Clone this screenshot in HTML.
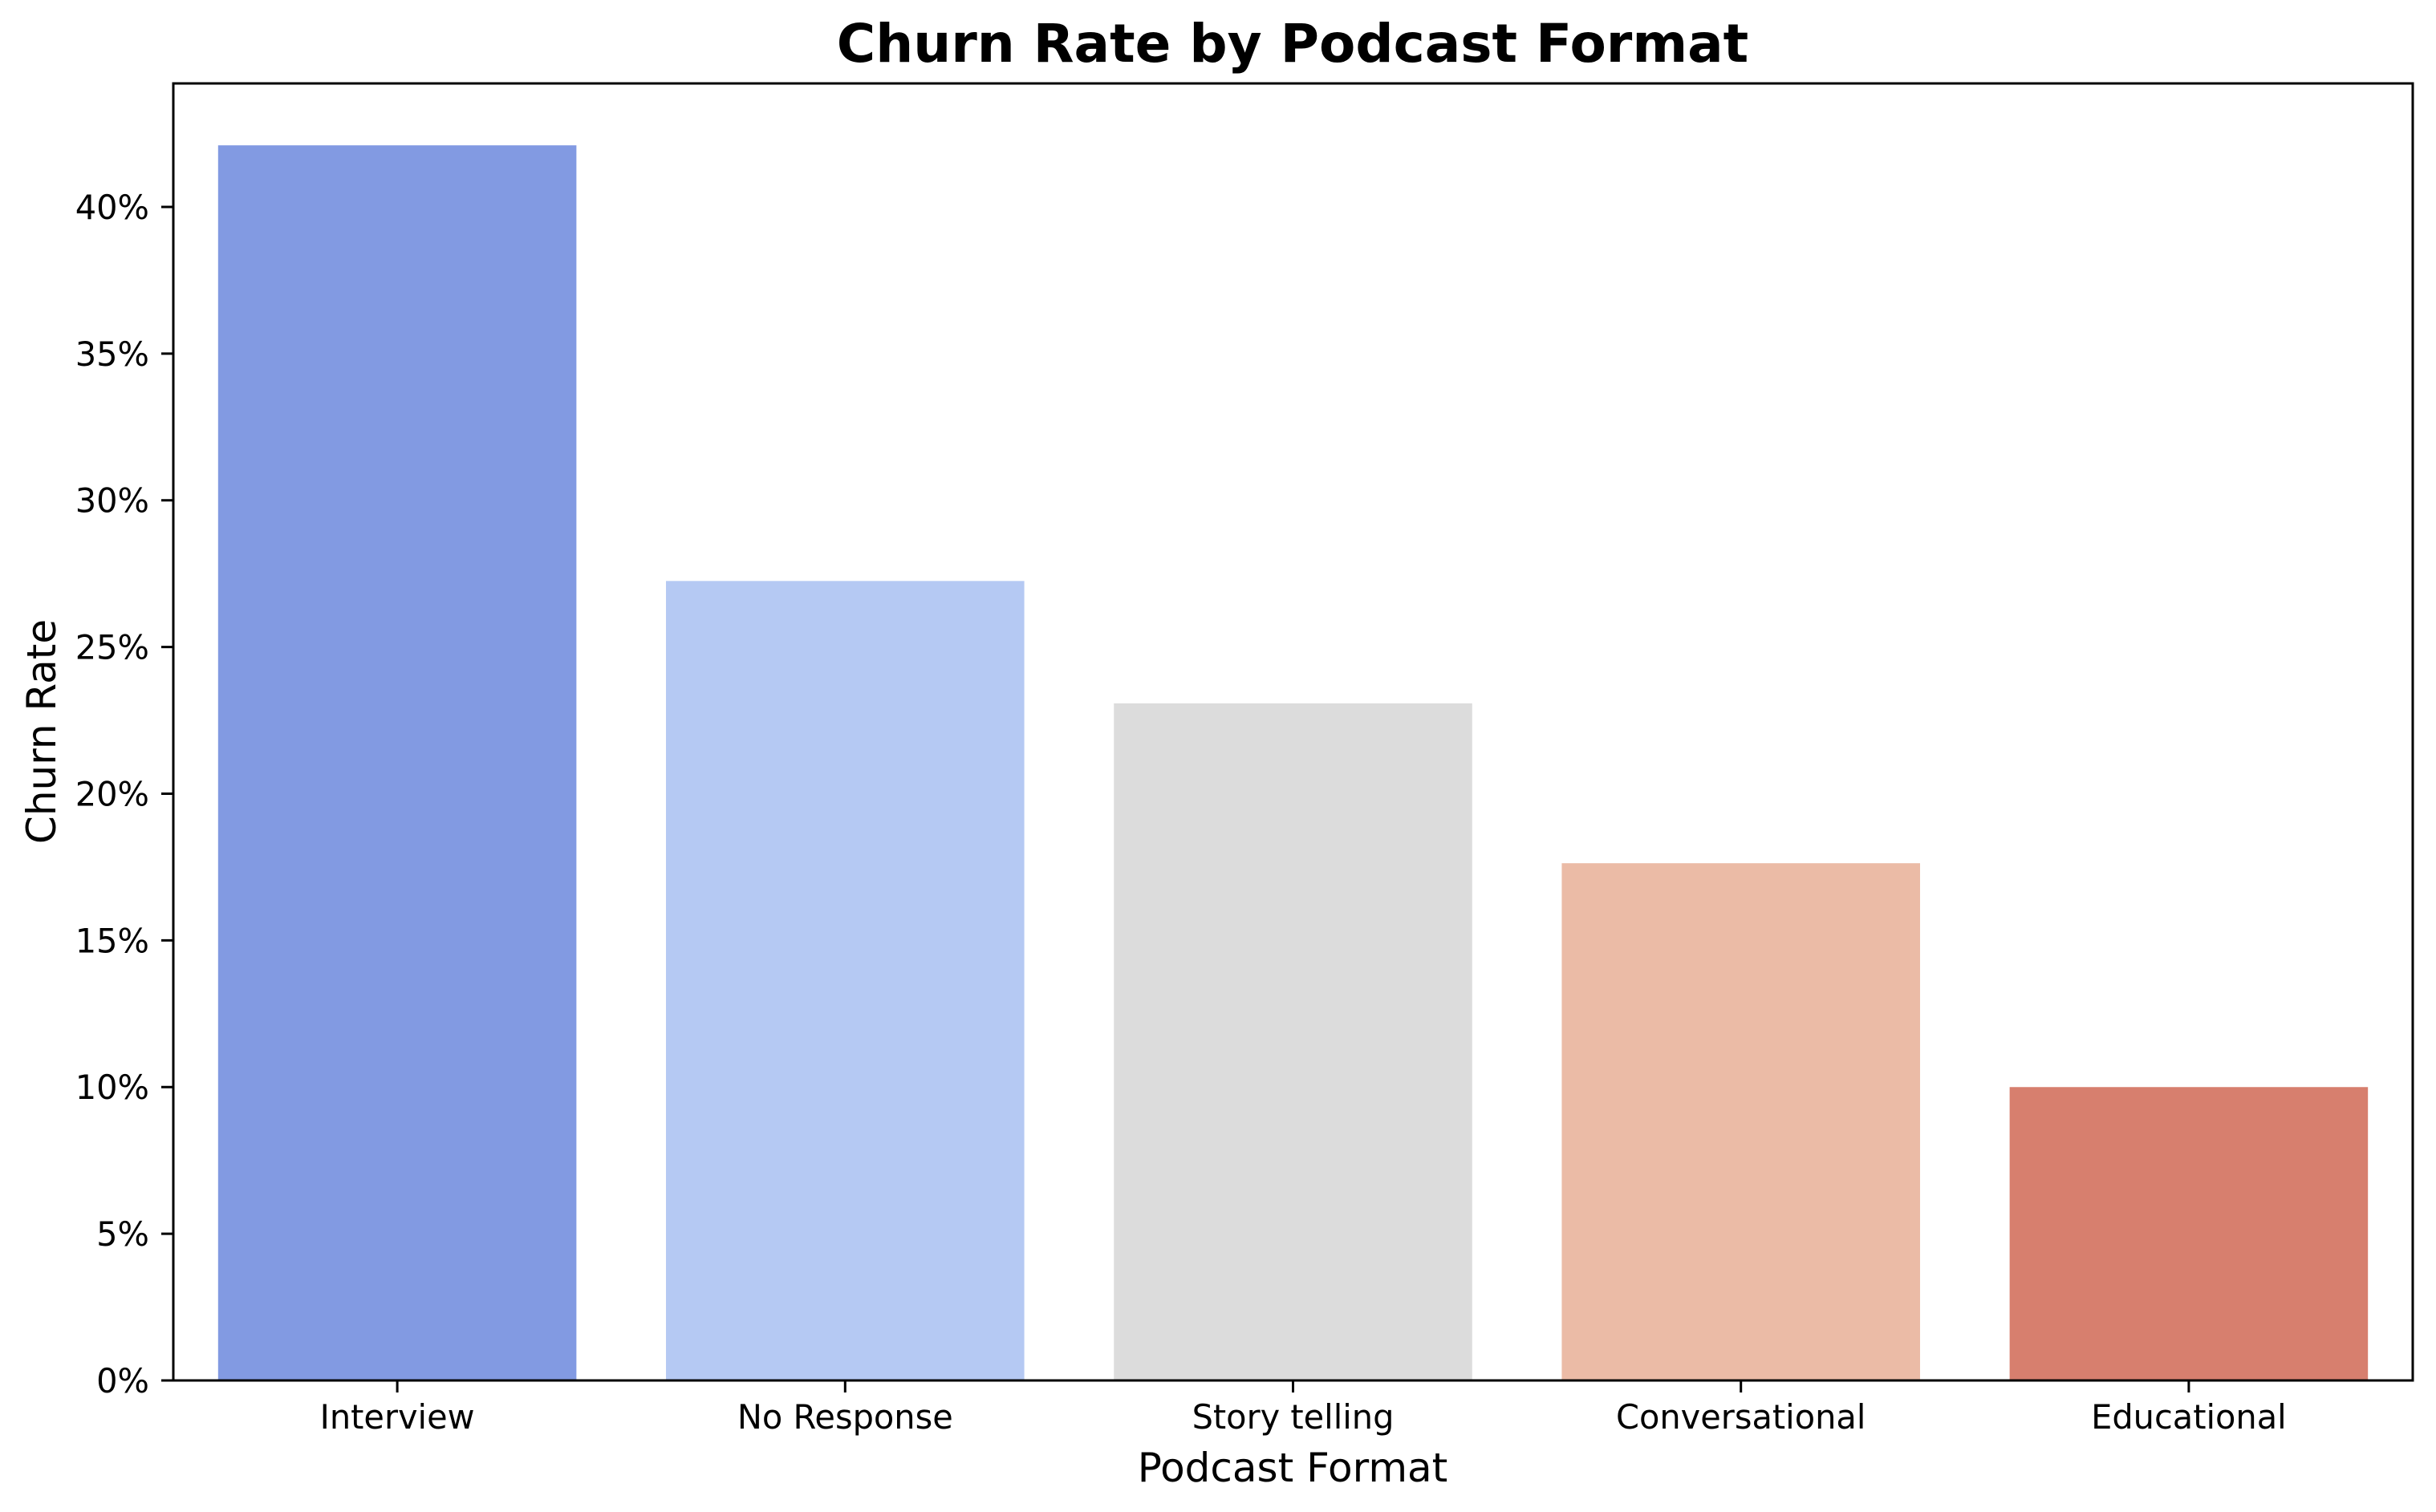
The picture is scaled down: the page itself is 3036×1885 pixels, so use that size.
<!DOCTYPE html>
<html><head><meta charset="utf-8"><style>
html,body{margin:0;padding:0;background:#fff;}
svg{display:block;font-family:"DejaVu Sans","Liberation Sans",sans-serif;}
</style></head><body>
<svg id="chart" width="3036" height="1885" viewBox="0 0 3036 1885" xmlns="http://www.w3.org/2000/svg">
<text x="1611" y="77" font-size="66" font-weight="bold" text-anchor="middle">Churn Rate by Podcast Format</text>
<g id="bars"></g>
<g id="yticks"></g>
<g id="xticks"></g>
<rect x="216" y="104" width="2791" height="1617" fill="none" stroke="#000" stroke-width="3"/>
<text x="1611" y="1847" font-size="50" text-anchor="middle">Podcast Format</text>
<text transform="translate(52,912) rotate(-90)" font-size="50" text-anchor="middle" dominant-baseline="central">Churn Rate</text>
</svg>
<script>
const categories = ["Interview","No Response","Story telling","Conversational","Educational"];
const churnValues = [42.1, 27.25, 23.08, 17.63, 10.0];
const yTickValues = [0,5,10,15,20,25,30,35,40];
const barColors = ["#829AE2","#B5C9F3","#DCDCDC","#EBBBA6","#D77F6E"];

const NS="http://www.w3.org/2000/svg";
const plotLeft=216,plotRight=3007,plotTop=104,plotBottom=1721,yMax=44.21;
function xScale(i){return plotLeft+(i+0.5)*(plotRight-plotLeft)/categories.length;}
function yScale(v){return plotBottom-(v/yMax)*(plotBottom-plotTop);}
const band=(plotRight-plotLeft)/categories.length, bw=band*0.8;
const bars=document.getElementById('bars');
categories.forEach((c,i)=>{
  const r=document.createElementNS(NS,'rect');
  r.setAttribute('x',xScale(i)-bw/2);
  r.setAttribute('y',yScale(churnValues[i]));
  r.setAttribute('width',bw);
  r.setAttribute('height',plotBottom-yScale(churnValues[i]));
  r.setAttribute('fill',barColors[i]);
  
  
  bars.appendChild(r);
});
const xt=document.getElementById('xticks');
categories.forEach((c,i)=>{
  const l=document.createElementNS(NS,'line');
  l.setAttribute('x1',xScale(i));l.setAttribute('x2',xScale(i));
  l.setAttribute('y1',plotBottom);l.setAttribute('y2',plotBottom+15);
  l.setAttribute('stroke','#000');l.setAttribute('stroke-width','3');
  
  
  xt.appendChild(l);
  const t=document.createElementNS(NS,'text');
  t.setAttribute('x',xScale(i));t.setAttribute('y',1781);
  t.setAttribute('font-size','41.5');t.setAttribute('text-anchor','middle');
  t.textContent=c;
  
  
  xt.appendChild(t);
});
const yt=document.getElementById('yticks');
yTickValues.forEach(v=>{
  const y=yScale(v);
  const l=document.createElementNS(NS,'line');
  l.setAttribute('x1',plotLeft-15);l.setAttribute('x2',plotLeft);
  l.setAttribute('y1',y);l.setAttribute('y2',y);
  l.setAttribute('stroke','#000');l.setAttribute('stroke-width','3');
  
  
  yt.appendChild(l);
  const t=document.createElementNS(NS,'text');
  t.setAttribute('x',186);t.setAttribute('y',y+15);
  t.setAttribute('font-size','41.5');t.setAttribute('text-anchor','end');
  t.textContent=v+'%';
  
  
  yt.appendChild(t);
});
</script>
</body></html>
